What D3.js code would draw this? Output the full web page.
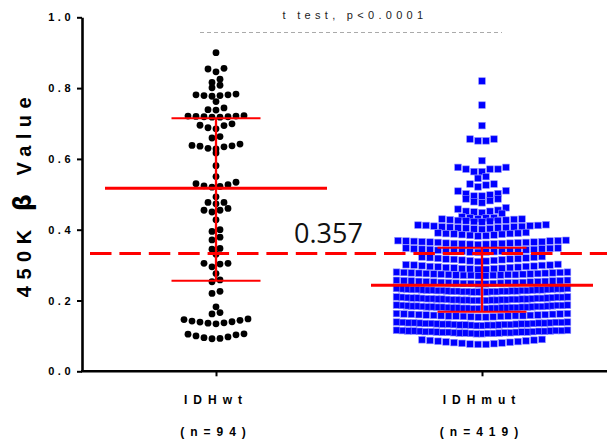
<!DOCTYPE html>
<html>
<head>
<meta charset="utf-8">
<script src="https://cdn.jsdelivr.net/npm/d3@7"></script>
<style>
body { margin: 0; background: #fff; }
svg { display: block; }
</style>
</head>
<body>
<svg id="chart" width="607" height="442"></svg>
<script>
// groups and labels
var groups = ["IDHwt", "IDHmut"];
var groupCounts = ["(n=94)", "(n=419)"];
var yTicks = [0, 0.2, 0.4, 0.6, 0.8, 1.0];
var yTitleParts = ["450K ", "\u03B2", " Value"];
var testLabel = "t test, p<0.0001";
var cutoffValue = 0.333;
var cutoffLabel = "0.357";

// median and interquartile range, as drawn
var medians = [0.517, 0.243];
var q1 = [0.256, 0.168];
var q3 = [0.715, 0.349];

// IDHwt beta values (n=94)
var wtValues = [
  0.900,
  0.856, 0.854, 0.846,
  0.825, 0.816,
  0.808, 0.801,
  0.783, 0.781, 0.781, 0.779, 0.779, 0.777,
  0.762,
  0.744, 0.739, 0.738,
  0.722, 0.721, 0.721, 0.720, 0.719, 0.719, 0.718, 0.718,
  0.699, 0.695, 0.694, 0.688, 0.685,
  0.663, 0.659,
  0.642, 0.638, 0.637, 0.636, 0.634, 0.630, 0.628,
  0.617,
  0.581,
  0.550,
  0.534, 0.530, 0.527, 0.524, 0.522, 0.520,
  0.493,
  0.477, 0.477, 0.473,
  0.460, 0.455, 0.455, 0.450,
  0.428,
  0.400, 0.395,
  0.379, 0.371,
  0.347, 0.345,
  0.331,
  0.305, 0.305, 0.303, 0.295,
  0.276,
  0.258, 0.253,
  0.226, 0.220,
  0.182,
  0.166, 0.162,
  0.148, 0.146, 0.144, 0.142, 0.140, 0.139, 0.137, 0.136, 0.134,
  0.106, 0.105, 0.103, 0.100, 0.097, 0.095, 0.093, 0.092
];

// IDHmut beta values (n=419)
var mutValues = [
  0.820,
  0.752,
  0.694,
  0.656, 0.656, 0.651, 0.651,
  0.595,
  0.576, 0.576, 0.571, 0.571, 0.571, 0.564, 0.564,
  0.550, 0.545,
  0.529, 0.529, 0.526, 0.521,
  0.510, 0.509, 0.502, 0.501, 0.498, 0.495, 0.495,
  0.487, 0.487, 0.482, 0.479, 0.476,
  0.462, 0.458, 0.455, 0.452, 0.452, 0.450, 0.448, 0.446,
  0.436, 0.434, 0.434, 0.433, 0.431, 0.430, 0.430, 0.429, 0.428, 0.427, 0.426, 0.426, 0.425, 0.424, 0.423, 0.422,
  0.414, 0.413, 0.412, 0.412, 0.411, 0.410, 0.409, 0.408, 0.408, 0.407, 0.406, 0.405, 0.405, 0.404, 0.403, 0.402, 0.401,
  0.392, 0.391, 0.390, 0.389, 0.389, 0.388, 0.387, 0.386, 0.385, 0.384, 0.383, 0.382,
  0.370, 0.369, 0.369, 0.368, 0.368, 0.367, 0.366, 0.366, 0.365, 0.365, 0.364, 0.364, 0.363, 0.362, 0.362, 0.361, 0.361, 0.360, 0.360, 0.359, 0.359, 0.358,
  0.348, 0.348, 0.347, 0.346, 0.346, 0.345, 0.344, 0.344, 0.343, 0.342, 0.342, 0.341, 0.340, 0.340, 0.339, 0.339, 0.338, 0.337, 0.337, 0.336,
  0.324, 0.323, 0.322, 0.321, 0.320, 0.319, 0.318, 0.317, 0.317, 0.316, 0.315, 0.314, 0.313, 0.312, 0.311, 0.310,
  0.302, 0.301, 0.300, 0.300, 0.299, 0.298, 0.297, 0.296, 0.296, 0.295, 0.294, 0.293, 0.293, 0.292, 0.291, 0.290, 0.290, 0.289, 0.288, 0.288,
  0.280, 0.280, 0.279, 0.279, 0.278, 0.278, 0.277, 0.277, 0.276, 0.276, 0.275, 0.275, 0.274, 0.274, 0.273, 0.273, 0.273, 0.272, 0.272, 0.271, 0.271, 0.271, 0.270, 0.270,
  0.257, 0.257, 0.256, 0.256, 0.255, 0.255, 0.254, 0.254, 0.253, 0.253, 0.252, 0.252, 0.251, 0.251, 0.250, 0.250, 0.250, 0.249, 0.249, 0.248, 0.248, 0.248, 0.247, 0.247,
  0.234, 0.234, 0.233, 0.233, 0.233, 0.232, 0.232, 0.231, 0.231, 0.231, 0.230, 0.230, 0.230, 0.229, 0.229, 0.229, 0.228, 0.228, 0.228, 0.228,
  0.227, 0.227, 0.227, 0.226, 0.226, 0.226, 0.226, 0.225, 0.225, 0.225, 0.225, 0.224, 0.224, 0.224, 0.224,
  0.210, 0.210, 0.209, 0.209, 0.209, 0.208, 0.208, 0.207, 0.207, 0.207, 0.206, 0.206, 0.206, 0.205, 0.205, 0.205, 0.204, 0.204, 0.204, 0.204,
  0.203, 0.203, 0.203, 0.202, 0.202, 0.202, 0.202, 0.201, 0.201, 0.201, 0.201, 0.200, 0.200, 0.200, 0.200,
  0.187, 0.187, 0.186, 0.186, 0.186, 0.185, 0.185, 0.184, 0.184, 0.184, 0.183, 0.183, 0.183, 0.182, 0.182, 0.182, 0.181, 0.181, 0.181, 0.181,
  0.180, 0.180, 0.180, 0.179, 0.179, 0.179, 0.179, 0.178, 0.178, 0.178, 0.178, 0.177, 0.177, 0.177, 0.177,
  0.163, 0.163, 0.162, 0.162, 0.161, 0.161, 0.160, 0.160, 0.159, 0.159, 0.158, 0.158, 0.157, 0.157, 0.157, 0.156, 0.156, 0.156, 0.155, 0.155, 0.154, 0.154, 0.153, 0.153,
  0.139, 0.139, 0.138, 0.138, 0.138, 0.137, 0.137, 0.137, 0.136, 0.136, 0.136, 0.135, 0.135, 0.135, 0.134, 0.134, 0.134,
  0.133, 0.133, 0.133, 0.132, 0.132, 0.132, 0.131, 0.131, 0.131, 0.130, 0.130, 0.130, 0.129, 0.129,
  0.116, 0.116, 0.115, 0.115, 0.115, 0.114, 0.114, 0.114, 0.113, 0.113, 0.113, 0.112, 0.112, 0.112, 0.111, 0.111, 0.111,
  0.110, 0.110, 0.110, 0.109, 0.109, 0.109, 0.108, 0.108, 0.108, 0.107, 0.107, 0.107, 0.106, 0.106,
  0.090, 0.089, 0.088, 0.087, 0.086, 0.085, 0.084, 0.083, 0.082, 0.081, 0.080, 0.079, 0.078, 0.077, 0.076, 0.076
];

var svg = d3.select("#chart");
var boldFont = "'Liberation Sans', Arial, sans-serif";

var y = d3.scaleLinear().domain([0, 1]).range([371.3, 17.3]);
var x = d3.scalePoint().domain(groups).range([216, 482]);

// group values into swarm rows (top-down), then spread each row sideways,
// lowest value in the middle
function swarm(values, cx, step, maxSpan) {
    var sorted = values.slice().sort(function (a, b) { return b - a; });
    var rows = [], cur = null;
    sorted.forEach(function (v) {
        if (!cur || v < cur[0] - 0.0155) { cur = [v]; rows.push(cur); }
        else cur.push(v);
    });
    var pts = [];
    rows.forEach(function (row) {
        var n = row.length;
        var s = n > 1 ? Math.min(step, maxSpan / (n - 1)) : 0;
        var slots = d3.range(n).map(function (k) { return (k - (n - 1) / 2) * s; });
        slots.sort(function (a, b) { return Math.abs(a) - Math.abs(b) || a - b; });
        row.slice().sort(function (a, b) { return a - b; }).forEach(function (v, i) {
            pts.push({ x: cx + slots[i], v: v });
        });
    });
    return pts;
}

// y axis
var yAxis = d3.axisLeft(y).tickValues(yTicks).tickFormat(d3.format(".1f"))
    .tickSize(5).tickSizeOuter(0);
var gy = svg.append("g").attr("transform", "translate(82,0)").call(yAxis);
gy.select(".domain").attr("stroke", "#000").attr("stroke-width", 2.6);
gy.selectAll(".tick line").attr("stroke", "#000").attr("stroke-width", 2);
gy.selectAll(".tick text")
    .attr("x", -8)
    .attr("font-family", boldFont).attr("font-weight", "bold")
    .attr("font-size", 11).attr("letter-spacing", "3.5px").attr("fill", "#000");

var yt = svg.append("text")
    .attr("transform", "translate(31,194) rotate(-90)")
    .attr("text-anchor", "middle")
    .attr("font-family", boldFont).attr("font-weight", "bold")
    .attr("font-size", 20).attr("letter-spacing", "6.5px");
yt.selectAll("tspan").data(yTitleParts).enter().append("tspan")
    .attr("font-size", function (d, i) { return i === 1 ? 24 : 20; })
    .attr("font-family", function (d, i) { return i === 1 ? "'DejaVu Sans', sans-serif" : boldFont; })
    .text(function (d) { return d; });

// x axis
svg.append("line")
    .attr("x1", 81).attr("x2", 607)
    .attr("y1", y(0)).attr("y2", y(0))
    .attr("stroke", "#000").attr("stroke-width", 2.6);
var xAxis = d3.axisBottom(x).tickSize(5).tickSizeOuter(0).tickFormat("");
var gx = svg.append("g").attr("transform", "translate(0," + y(0) + ")").call(xAxis);
gx.select(".domain").remove();
gx.selectAll(".tick line").attr("stroke", "#000").attr("stroke-width", 2);

groups.forEach(function (g, i) {
    var lbl = svg.append("text")
        .attr("text-anchor", "middle")
        .attr("font-family", boldFont).attr("font-weight", "bold")
        .attr("font-size", 12).attr("letter-spacing", "6px").attr("fill", "#000");
    lbl.append("tspan").attr("x", x(g)).attr("y", 404).text(g);
    lbl.append("tspan").attr("x", x(g)).attr("y", 436).text(groupCounts[i]);
});

// points
var wtPts = swarm(wtValues, x("IDHwt"), 8, 171);
var mutPts = swarm(mutValues, x("IDHmut"), 8, 171);

svg.append("g").selectAll("circle").data(wtPts).enter().append("circle")
    .attr("cx", function (d) { return d.x; })
    .attr("cy", function (d) { return y(d.v); })
    .attr("r", 3.4)
    .attr("fill", "#000");

var sq = 6.6;
svg.append("g").selectAll("rect").data(mutPts).enter().append("rect")
    .attr("x", function (d) { return d.x - sq / 2; })
    .attr("y", function (d) { return y(d.v) - sq / 2; })
    .attr("width", sq).attr("height", sq)
    .attr("fill", "#0000ff")
    .attr("stroke", "#8c8cff").attr("stroke-width", 0.6);

// median + IQR
groups.forEach(function (g, i) {
    var cx = x(g);
    var st = svg.append("g").attr("stroke", "#ff0000");
    st.append("line").attr("x1", cx).attr("x2", cx)
        .attr("y1", y(q1[i])).attr("y2", y(q3[i])).attr("stroke-width", 2.3);
    [q1[i], q3[i]].forEach(function (q) {
        st.append("line").attr("x1", cx - 44.5).attr("x2", cx + 44.5)
            .attr("y1", y(q)).attr("y2", y(q)).attr("stroke-width", 2);
    });
    st.append("line").attr("x1", cx - 111).attr("x2", cx + 111)
        .attr("y1", y(medians[i])).attr("y2", y(medians[i])).attr("stroke-width", 3);
});

// cutoff line
svg.append("line")
    .attr("x1", 90).attr("x2", 607)
    .attr("y1", y(cutoffValue)).attr("y2", y(cutoffValue))
    .attr("stroke", "#ff0000").attr("stroke-width", 3)
    .attr("stroke-dasharray", "21.5,7.9");
svg.append("text")
    .attr("x", 294).attr("y", 243)
    .attr("font-family", "'Open Sans', sans-serif")
    .attr("font-size", 27).attr("fill", "#111")
    .text(cutoffLabel);

// significance
svg.append("line")
    .attr("x1", 200).attr("x2", 502).attr("y1", 32.5).attr("y2", 32.5)
    .attr("stroke", "#aaa").attr("stroke-width", 1)
    .attr("stroke-dasharray", "4,3");
svg.append("text")
    .attr("x", 355).attr("y", 19).attr("text-anchor", "middle")
    .attr("font-family", boldFont).attr("font-size", 11)
    .attr("letter-spacing", "4.3px").attr("fill", "#222")
    .text(testLabel);
</script>
</body>
</html>
